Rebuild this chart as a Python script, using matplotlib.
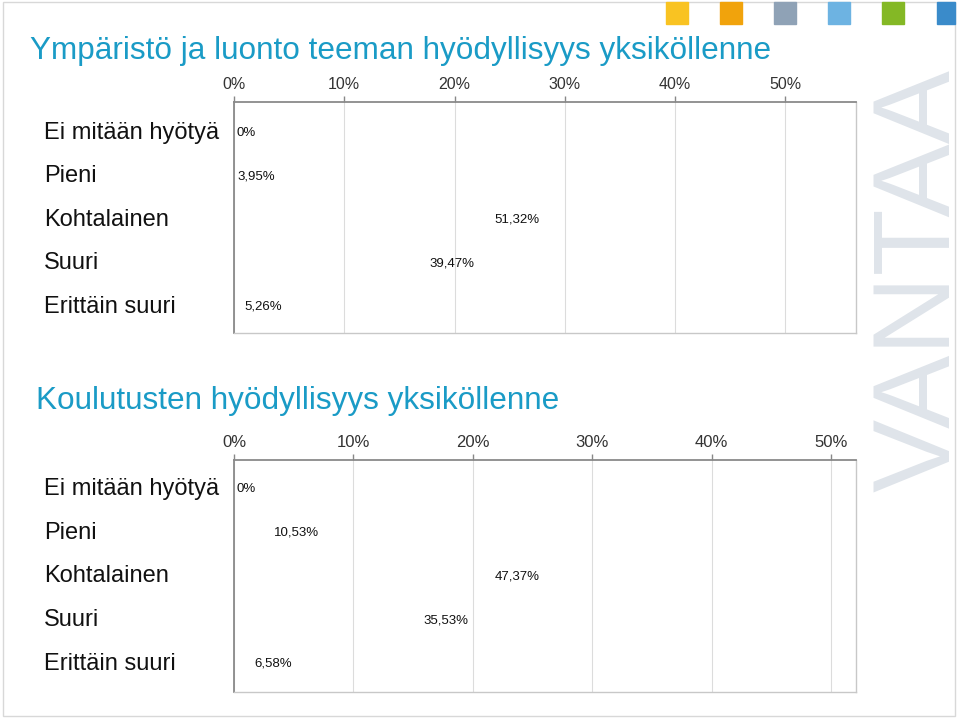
import matplotlib
matplotlib.use("Agg")
import matplotlib.pyplot as plt
from matplotlib.patches import Rectangle
import matplotlib.transforms as mtransforms

plt.rcParams['font.family'] = ['Liberation Sans', 'DejaVu Sans']

# data
categories = ["Ei mitään hyötyä", "Pieni", "Kohtalainen", "Suuri", "Erittäin suuri"]
luonto = [0.0, 3.95, 51.32, 39.47, 5.26]
koulutus = [0.0, 10.53, 47.37, 35.53, 6.58]
titles = ["Ympäristö ja luonto teeman hyödyllisyys yksiköllenne",
          "Koulutusten hyödyllisyys yksiköllenne"]
ticks = [0, 10, 20, 30, 40, 50]
tick_labels = ["0%", "10%", "20%", "30%", "40%", "50%"]
brand_colors = ["#f9c322", "#f1a30c", "#8fa2b6", "#6db3e2", "#84b825", "#3a8bca"]

title_color = "#1a9bc6"

fig = plt.figure(figsize=(9.6, 7.18), dpi=100)

# frame around the slide
fig.patches.append(Rectangle((3 / 960, 2 / 718), 952 / 960, 714 / 718, transform=fig.transFigure,
                             fill=False, edgecolor="#d8d8d8", linewidth=1.0, zorder=1))

# brand squares at the top
for i, c in enumerate(brand_colors):
    x0 = 666 + i * 54.1
    w = min(22, 955 - x0)
    fig.patches.append(Rectangle((x0 / 960, 1 - 24 / 718), w / 960, 22 / 718,
                                 transform=fig.transFigure, color=c, zorder=2))

# watermark
fig.text(922 / 960, 1 - 280 / 718, "VANTAA", rotation=90, fontsize=79,
         color="#dfe4ea", ha="center", va="center", zorder=0)


def panel(rect, values, xmax, title, title_y, title_x, fs_ticks, row_top, row_bottom):
    ax = fig.add_axes(rect)
    ypos = list(range(len(categories)))
    ax.barh(ypos, values, height=0.8, color="none", edgecolor="none")
    ax.set_xlim(0, xmax)
    ax.set_ylim(row_bottom, row_top)
    ax.xaxis.tick_top()
    ax.set_xticks(ticks)
    ax.set_xticklabels(tick_labels, fontsize=fs_ticks, color="#333333")
    ax.tick_params(axis="x", length=4, width=1, color="#888888", pad=3)
    ax.set_yticks([])
    ax.grid(axis="x", color="#dcdcdc", linewidth=0.8)
    ax.set_axisbelow(True)
    for s in ["top", "left"]:
        ax.spines[s].set_color("#8a8a8a")
        ax.spines[s].set_linewidth(1.3)
    for s in ["right", "bottom"]:
        ax.spines[s].set_color("#c8c8c8")
        ax.spines[s].set_linewidth(1.0)
    ax.patch.set_alpha(0)

    trans = mtransforms.blended_transform_factory(fig.transFigure, ax.transData)
    for y, cat in zip(ypos, categories):
        ax.text(44 / 960, y, cat, transform=trans, fontsize=17, color="#111111",
                ha="left", va="center")
    for y, v in zip(ypos, values):
        lbl = ("%.2f" % v).replace(".", ",") + "%" if v > 0 else "0%"
        if v > 0:
            ax.text(v / 2, y, lbl, fontsize=9.5, ha="center", va="center", color="#111111")
        else:
            ax.text(0.25, y, lbl, fontsize=9.5, ha="left", va="center", color="#111111")

    fig.text(title_x / 960, 1 - title_y / 718, title, fontsize=22.7, color=title_color,
             ha="left", va="center")
    return ax


panel([234 / 960, 1 - 333 / 718, 622 / 960, 231 / 718], luonto, 56.4, titles[0], 51, 30, 11.5,
      -0.71, 4.6)
panel([234 / 960, 1 - 692 / 718, 622 / 960, 232 / 718], koulutus, 52.1, titles[1], 401, 36, 12,
      -0.66, 4.64)

fig.savefig("out.png", dpi=100)
